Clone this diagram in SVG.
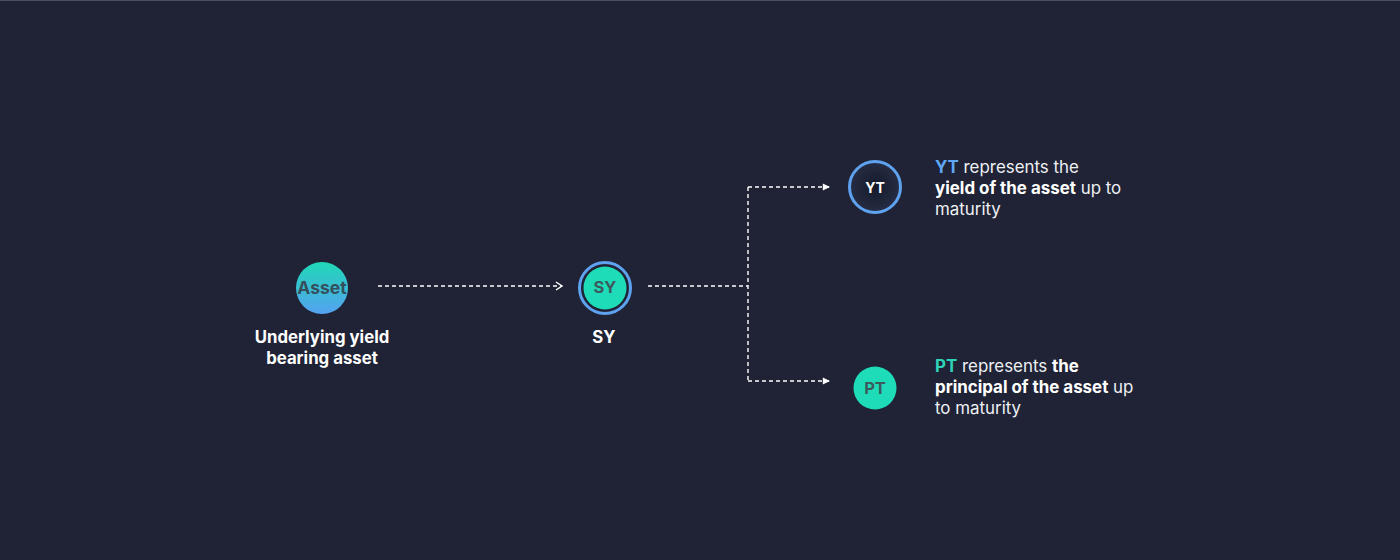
<svg xmlns="http://www.w3.org/2000/svg" width="1400" height="560" viewBox="0 0 1400 560">
<defs>
<linearGradient id="assetGrad" x1="0" y1="0" x2="0" y2="1">
<stop offset="0" stop-color="#1fd8b6"/>
<stop offset="1" stop-color="#55a2f2"/>
</linearGradient>
<radialGradient id="ytGrad" cx="0.5" cy="0.5" r="0.5">
<stop offset="0" stop-color="#141a2a"/>
<stop offset="1" stop-color="#262d44"/>
</radialGradient>
<marker id="chev" viewBox="0 0 10 10" refX="8" refY="5" markerWidth="10" markerHeight="10" markerUnits="userSpaceOnUse" orient="auto">
<path d="M2,1 L8,5 L2,9" fill="none" stroke="#ffffff" stroke-width="1.5"/>
</marker>
<marker id="tri" viewBox="0 0 10 10" refX="9" refY="5" markerWidth="9" markerHeight="9" markerUnits="userSpaceOnUse" orient="auto">
<path d="M1,1 L9,5 L1,9 Z" fill="#ffffff"/>
</marker>
</defs>
<style>
.bg{fill:#1f2335}
.conn{fill:none;stroke:#ffffff;stroke-width:1.4;stroke-dasharray:4 3}
.lbl{font-family:Inter,"Liberation Sans",sans-serif;font-weight:700;font-size:16.8px;fill:#ffffff;text-anchor:middle}
.ctext{font-family:Inter,"Liberation Sans",sans-serif;font-weight:700;text-anchor:middle;dominant-baseline:central}
.desc{font-family:Inter,"Liberation Sans",sans-serif;font-size:16.9px;fill:#eef0f4}
.b{font-weight:700;fill:#ffffff}
</style>
<rect class="bg" x="0" y="0" width="1400" height="560"/>
<line x1="0" y1="0.5" x2="1400" y2="0.5" stroke="#4a4f5e" stroke-width="1"/>
<g id="connectors">
<path class="conn" d="M378,286 H562" marker-end="url(#chev)"/>
<path class="conn" d="M648,286 H748"/>
<path class="conn" d="M748,187 V381"/>
<path class="conn" d="M748,187 H830" marker-end="url(#tri)"/>
<path class="conn" d="M748,381 H830" marker-end="url(#tri)"/>
</g>
<g id="asset">
<circle cx="322" cy="288" r="26" fill="url(#assetGrad)"/>
<text class="ctext" x="322" y="287" font-size="17.5" fill="#34505c">Asset</text>
<text class="lbl" x="322" y="343">Underlying yield</text>
<text class="lbl" x="322" y="364">bearing asset</text>
</g>
<g id="sy">
<circle cx="605" cy="288" r="25.5" fill="#1f2335" stroke="#5ea2f0" stroke-width="3"/>
<circle cx="605" cy="288" r="21.5" fill="#1fdcb9"/>
<text class="ctext" x="605" y="287" font-size="16.5" fill="#3c5a5e">SY</text>
<text class="lbl" x="604" y="343">SY</text>
</g>
<g id="yt">
<circle cx="875" cy="187" r="25.5" fill="url(#ytGrad)" stroke="#5ea2f0" stroke-width="3"/>
<text class="ctext" x="875" y="187" font-size="14" fill="#ffffff">YT</text>
<text class="desc" x="935" y="173"><tspan class="b" style="fill:#5ea8f5">YT</tspan> represents the</text>
<text class="desc" x="935" y="194"><tspan class="b">yield of the asset</tspan> up to</text>
<text class="desc" x="935" y="215">maturity</text>
</g>
<g id="pt">
<circle cx="875" cy="388" r="21.5" fill="#1fdcb9"/>
<text class="ctext" x="875" y="388" font-size="16.5" fill="#3c5a5e">PT</text>
<text class="desc" x="935" y="372"><tspan class="b" style="fill:#2ed3b7">PT</tspan> represents <tspan class="b">the</tspan></text>
<text class="desc" x="935" y="393"><tspan class="b">principal of the asset</tspan> up</text>
<text class="desc" x="935" y="414">to maturity</text>
</g>
</svg>
